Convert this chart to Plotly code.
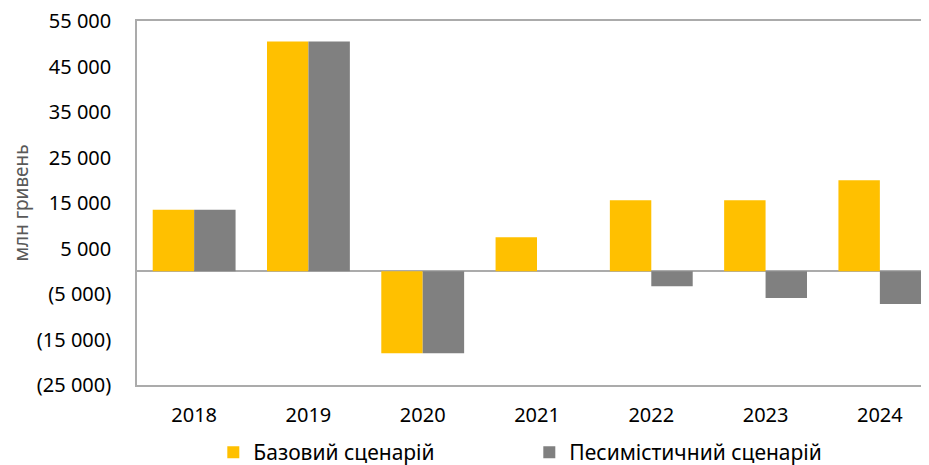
import plotly.graph_objects as go

years = ["2018", "2019", "2020", "2021", "2022", "2023", "2024"]
base_name = "Базовий сценарій"
pess_name = "Песимістичний сценарій"
base_values = [13500, 50500, -18000, 7500, 15600, 15600, 20000]
pess_values = [13500, 50500, -18000, None, -3300, -5900, -7200]
y_ticks = [-25000, -15000, -5000, 5000, 15000, 25000, 35000, 45000, 55000]
y_title = "млн гривень"


def fmt(v):
    s = f"{abs(v):,}".replace(",", " ")
    return f"({s})" if v < 0 else s


FONT = "Noto Sans"
fig = go.Figure()
fig.add_trace(go.Bar(x=list(range(len(years))), y=base_values, name=base_name,
                     marker=dict(color="#FFC000", line=dict(width=0))))
fig.add_trace(go.Bar(x=list(range(len(years))), y=pess_values, name=pess_name,
                     marker=dict(color="#808080", line=dict(width=0))))

fig.update_layout(
    width=929, height=465,
    margin=dict(l=129, r=0, t=13, b=88, autoexpand=False),
    paper_bgcolor="white", plot_bgcolor="white",
    barmode="group", bargap=0.275, bargroupgap=0,
    font=dict(family=FONT, size=20, color="#000000"),
    showlegend=True,
    legend=dict(orientation="h", xref="container", yref="container",
                x=0.221, y=0, xanchor="left", yanchor="bottom",
                entrywidth=271, entrywidthmode="pixels",
                font=dict(family=FONT, size=21, color="#000000"),
                itemsizing="constant", bgcolor="rgba(0,0,0,0)"),
    xaxis=dict(
        tickmode="array", tickvals=list(range(len(years))), ticktext=years,
        range=[-0.5, 6.5], showgrid=False, zeroline=False,
        showline=True, linecolor="#ABABAB", linewidth=1.5, mirror=True,
        ticks="", ticklabelstandoff=11, ticklabeloverflow="allow",
        tickfont=dict(family=FONT, size=20, color="#000000"),
    ),
    yaxis=dict(
        range=[-25000, 55000], tickmode="array", tickvals=y_ticks,
        ticktext=[fmt(v) for v in y_ticks], showgrid=False,
        zeroline=True, zerolinecolor="#ABABAB", zerolinewidth=1.5,
        showline=True, linecolor="#ABABAB", linewidth=1.5, mirror=False,
        ticks="", ticklabelstandoff=20, ticklabeloverflow="allow",
        tickfont=dict(family=FONT, size=20, color="#000000"),
        title=dict(text=y_title, standoff=13,
                   font=dict(family=FONT, size=19, color="#595959")),
    ),
)

fig.write_html("out.html")
